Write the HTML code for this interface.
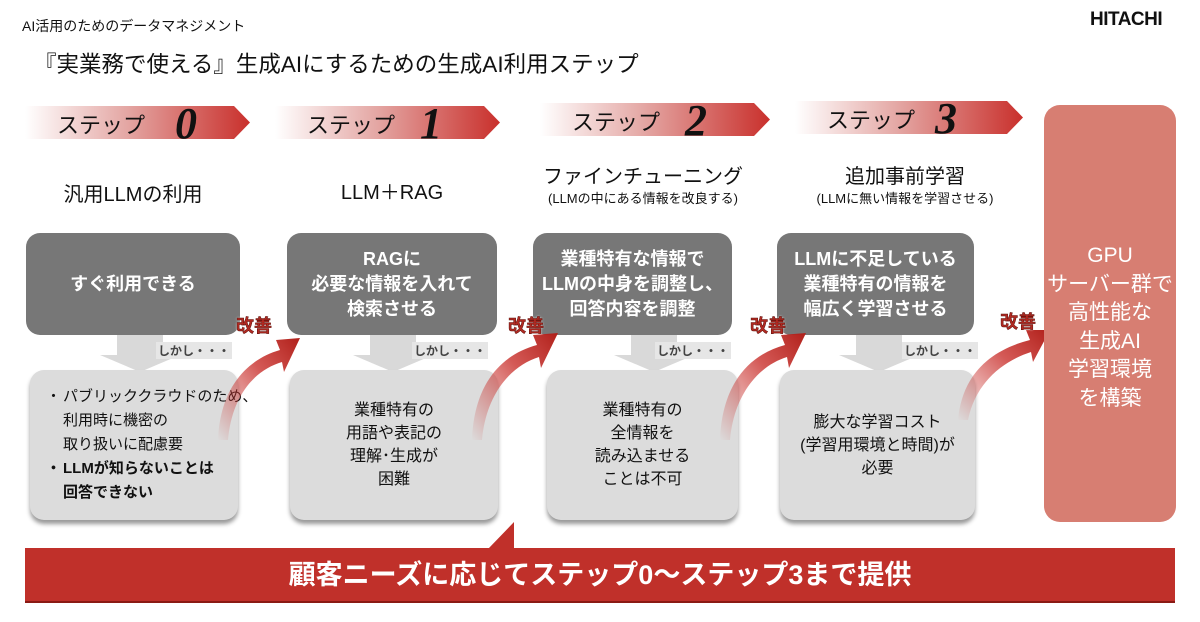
<!DOCTYPE html>
<html><head><meta charset="utf-8"><style>
*{margin:0;padding:0;box-sizing:border-box}
body{width:1200px;height:622px;background:#fff;position:relative;overflow:hidden;font-family:"Liberation Sans","Noto Sans CJK JP",sans-serif;color:#111}
.a{position:absolute}
.ban{position:absolute;height:33px;background:linear-gradient(90deg,#fff 0%,#e4a7a4 45%,#c9302c 100%);clip-path:polygon(0 0,calc(100% - 16px) 0,100% 50%,calc(100% - 16px) 100%,0 100%)}
.ban span{position:absolute;left:32px;top:2px;font-size:22px}
.ban b{position:absolute;top:-8px;font-size:44px;font-style:italic;font-family:"Liberation Serif",serif;font-weight:bold}
.ttl{position:absolute;text-align:center;font-size:20px}
.sub{font-size:13px;display:block;margin-top:-1px}
.gb{position:absolute;top:233px;height:102px;background:#777;border-radius:14px;color:#fff;font-weight:bold;font-size:18px;line-height:25px;display:flex;align-items:center;justify-content:center;text-align:center}
.dn{position:absolute;top:335px;width:46px;height:20px;background:#d9d9d9}
.dt{position:absolute;top:355px;width:0;height:0;border-left:40px solid transparent;border-right:40px solid transparent;border-top:17px solid #d9d9d9}
.sk{position:absolute;top:342px;font-size:12px;background:#e6e6e6;color:#444;padding:0 2px;font-weight:bold}
.cl{position:absolute;top:370px;height:150px;background:#dcdcdc;border-radius:14px;box-shadow:0 4px 4px #999;display:flex;align-items:center;justify-content:center;text-align:center;font-size:16px;line-height:23px}
.kz{position:absolute;font-size:18px;color:#b22a22;font-weight:bold;-webkit-text-stroke:0.5px #5a0f0a;text-shadow:0 0 2px #fff}
</style></head><body>
<div class="a" style="left:22px;top:16px;font-size:14px">AI活用のためのデータマネジメント</div>
<div class="a" style="left:1090px;top:9px;font-size:19px;font-weight:bold;letter-spacing:-0.5px">HITACHI</div>
<div class="a" style="left:34px;top:47px;font-size:22.5px">『実業務で使える』生成AIにするための生成AI利用ステップ</div>

<div class="ban" style="left:25px;top:106px;width:225px"><span>ステップ</span><b style="left:150px">0</b></div>
<div class="ban" style="left:275px;top:106px;width:225px"><span>ステップ</span><b style="left:145px">1</b></div>
<div class="ban" style="left:540px;top:103px;width:230px"><span>ステップ</span><b style="left:145px">2</b></div>
<div class="ban" style="left:795px;top:101px;width:228px"><span>ステップ</span><b style="left:140px">3</b></div>

<div class="ttl" style="left:26px;width:214px;top:178px">汎用LLMの利用</div>
<div class="ttl" style="left:287px;width:210px;top:176px">LLM＋RAG</div>
<div class="ttl" style="left:533px;width:220px;top:160px">ファインチューニング<span class="sub">(LLMの中にある情報を改良する)</span></div>
<div class="ttl" style="left:790px;width:230px;top:160px">追加事前学習<span class="sub">(LLMに無い情報を学習させる)</span></div>

<div class="gb" style="left:26px;width:214px">すぐ利用できる</div>
<div class="gb" style="left:287px;width:210px">RAGに<br>必要な情報を入れて<br>検索させる</div>
<div class="gb" style="left:533px;width:199px">業種特有な情報で<br>LLMの中身を調整し、<br>回答内容を調整</div>
<div class="gb" style="left:777px;width:197px">LLMに不足している<br>業種特有の情報を<br>幅広く学習させる</div>

<div class="dn" style="left:117px"></div><div class="dt" style="left:100px"></div><div class="sk" style="left:156px">しかし・・・</div>
<div class="dn" style="left:370px"></div><div class="dt" style="left:353px"></div><div class="sk" style="left:412px">しかし・・・</div>
<div class="dn" style="left:631px"></div><div class="dt" style="left:614px"></div><div class="sk" style="left:655px">しかし・・・</div>
<div class="dn" style="left:856px"></div><div class="dt" style="left:839px"></div><div class="sk" style="left:902px">しかし・・・</div>

<div class="cl" style="left:30px;width:208px;justify-content:flex-start;text-align:left;padding-left:16px;font-size:15px;white-space:nowrap;line-height:24px">
<div><span style="display:inline-block;width:17px">・</span>パブリッククラウドのため、<br><span style="display:inline-block;width:17px"></span>利用時に機密の<br><span style="display:inline-block;width:17px"></span>取り扱いに配慮要<br><b><span style="display:inline-block;width:17px">・</span>LLMが知らないことは<br><span style="display:inline-block;width:17px"></span>回答できない</b></div></div>
<div class="cl" style="left:290px;width:208px">業種特有の<br>用語や表記の<br>理解･生成が<br>困難</div>
<div class="cl" style="left:547px;width:191px">業種特有の<br>全情報を<br>読み込ませる<br>ことは不可</div>
<div class="cl" style="left:780px;width:195px">膨大な学習コスト<br>(学習用環境と時間)が<br>必要</div>

<svg class="a" style="left:0;top:0" width="1200" height="622">
<defs><linearGradient id="g" x1="0" y1="1" x2="1" y2="0"><stop offset="0" stop-color="#c9302c" stop-opacity="0"/><stop offset="0.6" stop-color="#c9302c" stop-opacity="0.8"/><stop offset="1" stop-color="#b0201a"/></linearGradient></defs>
<g fill="url(#g)">
<path d="M218 440 C220 390 245 360 280 350 L276 340 L300 338 L284 372 L282 362 C255 370 232 395 228 440 Z"/>
<path d="M472 440 C474 385 500 355 537 345 L533 335 L558 333 L541 368 L539 357 C510 366 486 395 482 440 Z"/>
<path d="M720 440 C722 385 748 355 785 345 L781 335 L806 333 L789 368 L787 357 C758 366 734 395 730 440 Z"/>
<path d="M958 420 C962 375 990 350 1030 340 L1026 330 L1050 330 L1033 362 L1031 352 C1000 362 975 385 968 420 Z"/>
</g>
</svg>
<div class="kz" style="left:236px;top:312px">改善</div>
<div class="kz" style="left:508px;top:312px">改善</div>
<div class="kz" style="left:750px;top:312px">改善</div>
<div class="kz" style="left:1000px;top:308px">改善</div>

<div class="a" style="left:1044px;top:105px;width:132px;height:417px;background:#d77e72;border-radius:16px;color:#fff;font-size:21px;line-height:28.5px;text-align:center;display:flex;align-items:center;justify-content:center;padding-top:28px">GPU<br>サーバー群で<br>高性能な<br>生成AI<br>学習環境<br>を構築</div>

<div class="a" style="left:25px;top:548px;width:1150px;height:55px;background:#c0302a;border-bottom:2px solid #8a1a14;color:#fff;font-size:27px;font-weight:bold;text-align:center;line-height:55px">顧客ニーズに応じてステップ0～ステップ3まで提供</div>
<div class="a" style="left:488px;top:522px;width:0;height:0;border-left:26px solid transparent;border-right:0 solid transparent;border-bottom:27px solid #c0302a"></div>
</body></html>
